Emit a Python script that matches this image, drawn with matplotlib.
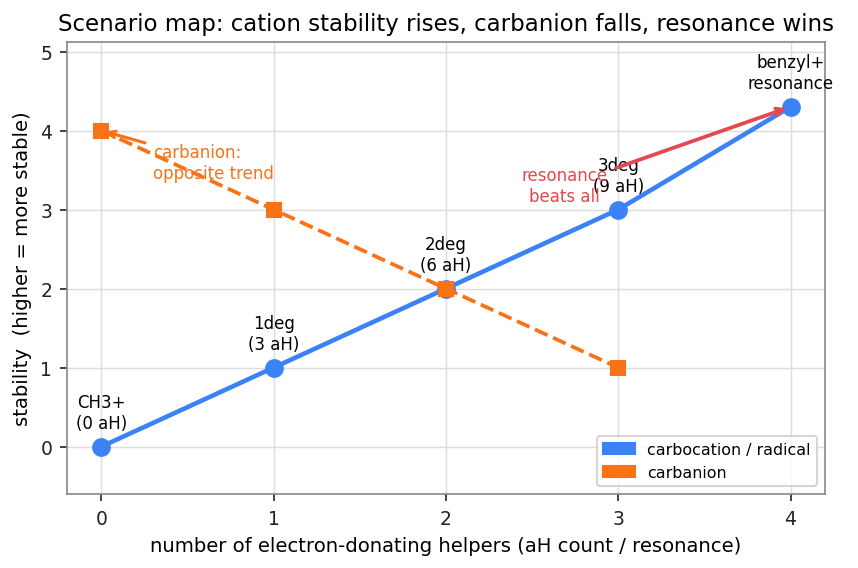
import matplotlib
matplotlib.use("Agg")
import matplotlib.pyplot as plt
from matplotlib.patches import Patch

# data
helpers = [0, 1, 2, 3, 4]
cation = [0, 1, 2, 3, 4.3]
cation_labels = ["CH3+\n(0 aH)", "1deg\n(3 aH)", "2deg\n(6 aH)", "3deg\n(9 aH)", "benzyl+\nresonance"]
anion_x = [0, 1, 2, 3]
anion = [4, 3, 2, 1]

blue = "#3b82f6"
orange = "#f97316"
red = "#e5484d"

fig, ax = plt.subplots(figsize=(5.72, 3.793), dpi=150)
fig.subplots_adjust(left=0.078, right=0.9615, top=0.9244, bottom=0.130)

ax.plot(helpers, cation, color=blue, lw=2.2, marker="o", ms=8, zorder=3)
ax.plot(anion_x, anion, color=orange, lw=1.8, ls="--", marker="s", ms=7, zorder=3)

for x, y, lab in zip(helpers, cation, cation_labels):
    ax.annotate(lab, (x, y), xytext=(0, 7), textcoords="offset points",
                ha="center", va="bottom", fontsize=8)

ax.annotate("carbanion:\nopposite trend", xy=(anion_x[0], anion[0]), xytext=(0.3, 3.6),
            ha="left", va="center", fontsize=8, color=orange,
            arrowprops=dict(arrowstyle="->", color=orange, lw=1.5))
ax.annotate("resonance\nbeats all", xy=(helpers[-1], cation[-1]), xytext=(2.69, 3.3),
            ha="center", va="center", fontsize=8, color=red,
            arrowprops=dict(arrowstyle="->", color=red, lw=1.8))

ax.set_xlim(-0.2, 4.2)
ax.set_ylim(-0.6, 5.12)
ax.set_xticks(helpers)
ax.set_yticks([0, 1, 2, 3, 4, 5])
ax.grid(True, color="#dddddd", lw=0.7)
ax.set_axisbelow(True)
for s in ax.spines.values():
    s.set_color("#888888")
ax.tick_params(colors="#222222", labelsize=9)

ax.set_xlabel("number of electron-donating helpers (aH count / resonance)", fontsize=9.4)
ax.set_ylabel("stability  (higher = more stable)", fontsize=9.4)
ax.set_title("Scenario map: cation stability rises, carbanion falls, resonance wins", fontsize=11)

handles = [Patch(color=blue, label="carbocation / radical"), Patch(color=orange, label="carbanion")]
ax.legend(handles=handles, loc="lower right", fontsize=7.6)

plt.savefig("out.png", dpi=150)
